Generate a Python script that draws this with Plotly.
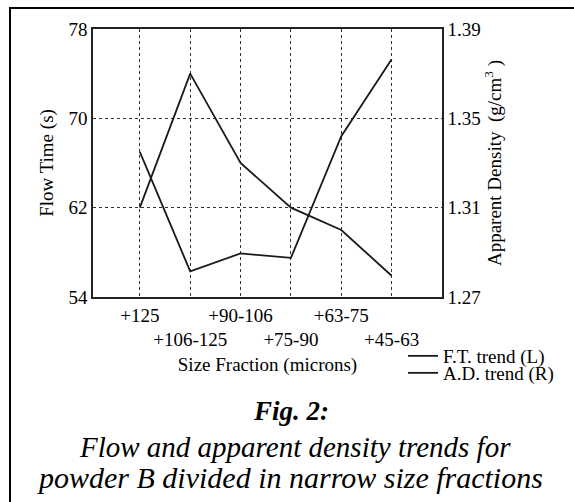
import plotly.graph_objects as go

categories = ["+125", "+106-125", "+90-106", "+75-90", "+63-75", "+45-63"]
tick_labels = ["+125", "<br>+106-125", "+90-106", "<br>+75-90", "+63-75", "<br>+45-63"]
flow_time = [67.0, 56.3, 57.9, 57.5, 68.4, 75.3]          # F.T. trend (L), s
apparent_density = [1.310, 1.370, 1.330, 1.310, 1.300, 1.2795]  # A.D. trend (R), g/cm3
left_ticks = [54, 62, 70, 78]
right_ticks = [1.27, 1.31, 1.35, 1.39]

FONT = "Liberation Serif, Times New Roman, serif"
xpos = list(range(1, len(categories) + 1))

fig = go.Figure()
fig.add_trace(go.Scatter(x=xpos, y=flow_time, mode="lines", name="F.T. trend (L)",
                         line=dict(color="#1a1a1a", width=1.8), yaxis="y", legend="legend"))
fig.add_trace(go.Scatter(x=xpos, y=apparent_density, mode="lines", name="A.D. trend (R)",
                         line=dict(color="#1a1a1a", width=1.8), yaxis="y2", legend="legend2"))

W, H = 574, 502
L, R, T, B = 93, 132, 29, 205
pw, ph = W - L - R, H - T - B

def px(x):
    return (x - L) / pw

def py(y):
    return (H - B - y) / ph

fig.update_layout(
    width=W, height=H,
    margin=dict(l=L, r=R, t=T, b=B),
    paper_bgcolor="white", plot_bgcolor="white",
    font=dict(family=FONT, size=19, color="black"),
    xaxis=dict(range=[0.07, 7], tickvals=xpos, ticktext=tick_labels, ticks="",
               tickangle=0,
               showgrid=True, gridcolor="#333", gridwidth=1, griddash="dot",
               showline=True, mirror=True, linecolor="#222", linewidth=1.5,
               zeroline=False, tickfont=dict(family=FONT, size=19),
               title=dict(text="Size Fraction (microns)", standoff=8,
                          font=dict(family=FONT, size=19))),
    yaxis=dict(range=[54, 78], tickvals=left_ticks, ticks="",
               showgrid=True, gridcolor="#333", gridwidth=1, griddash="dot",
               showline=True, mirror=True, linecolor="#222", linewidth=1.5,
               zeroline=False, tickfont=dict(family=FONT, size=19),
               title=dict(text="Flow Time (s)", standoff=10,
                          font=dict(family=FONT, size=19))),
    yaxis2=dict(range=[1.27, 1.39], tickvals=right_ticks, tickformat=".2f", ticks="",
                overlaying="y", side="right", showgrid=False, zeroline=False,
                showline=True, linecolor="#222", linewidth=1.5,
                tickfont=dict(family=FONT, size=19),
                title=dict(text="Apparent Density  (g/cm<sup>3</sup> )", standoff=8,
                           font=dict(family=FONT, size=19))),
    legend=dict(x=px(403), y=py(356), xanchor="left", yanchor="middle",
                bgcolor="rgba(0,0,0,0)", borderwidth=0, font=dict(family=FONT, size=19)),
    legend2=dict(x=px(403), y=py(373), xanchor="left", yanchor="middle",
                 bgcolor="rgba(0,0,0,0)", borderwidth=0, font=dict(family=FONT, size=19)),
    showlegend=True,
)

# outer frame of the figure panel (top and left edges visible)
fig.add_shape(type="line", xref="paper", yref="paper",
              x0=px(9), x1=px(574), y0=py(8), y1=py(8),
              line=dict(color="black", width=2))
fig.add_shape(type="line", xref="paper", yref="paper",
              x0=px(10), x1=px(10), y0=py(7), y1=py(502),
              line=dict(color="black", width=2))

fig.add_annotation(xref="paper", yref="paper", x=px(291), y=py(411),
                   text="<b><i>Fig. 2:</i></b>", showarrow=False,
                   xanchor="center", yanchor="middle",
                   font=dict(family=FONT, size=27, color="black"))
fig.add_annotation(xref="paper", yref="paper", x=px(295), y=py(447),
                   text="<i>Flow and apparent density trends for</i>",
                   showarrow=False, xanchor="center", yanchor="middle",
                   font=dict(family=FONT, size=29, color="black"))
fig.add_annotation(xref="paper", yref="paper", x=px(290), y=py(477),
                   text="<i>powder B divided in narrow size fractions</i>",
                   showarrow=False, xanchor="center", yanchor="middle",
                   font=dict(family=FONT, size=30, color="black"))

fig.write_html("out.html", config={"displayModeBar": False},
               post_script="document.body.style.margin='0';")
